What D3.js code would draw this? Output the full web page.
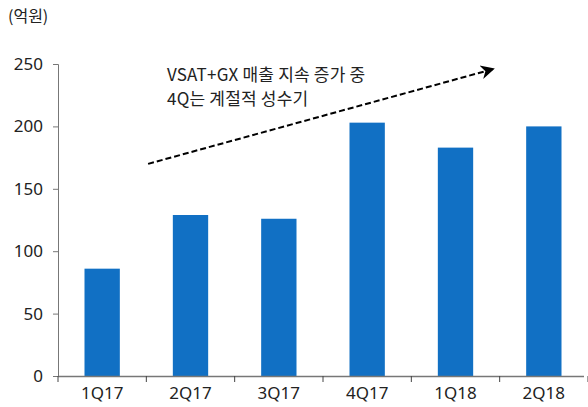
<!DOCTYPE html>
<html>
<head>
<meta charset="utf-8">
<script src="https://cdn.jsdelivr.net/npm/d3@7"></script>
<style>
  body { margin: 0; background: #fff; }
  svg { display: block; font-family: "Noto Sans CJK KR", "Noto Sans", sans-serif; }
</style>
</head>
<body>
<svg id="chart" width="588" height="407"></svg>
<script>
var quarters = ["1Q17", "2Q17", "3Q17", "4Q17", "1Q18", "2Q18"];
var sales = [86, 129, 126, 203, 183, 200];
var yTicks = [0, 50, 100, 150, 200, 250];
var unitLabel = "(억원)";
var noteLines = ["VSAT+GX 매출 지속 증가 중", "4Q는 계절적 성수기"];

var margin = {top: 64, right: 0, bottom: 31, left: 58},
    width = 588 - margin.left - margin.right,
    height = 407 - margin.top - margin.bottom;

var svg = d3.select("#chart")
    .append("g")
    .attr("transform", `translate(${margin.left}, ${margin.top})`);

var x = d3.scaleBand()
    .domain(quarters)
    .range([0, width])
    .paddingInner(0.6)
    .paddingOuter(0.3);

var y = d3.scaleLinear()
    .domain([0, 250])
    .range([height, 0]);

// bars
svg.selectAll("rect.bar")
    .data(quarters)
    .enter().append("rect")
    .attr("class", "bar")
    .attr("x", d => x(d))
    .attr("y", (d, i) => y(sales[i]))
    .attr("width", x.bandwidth())
    .attr("height", (d, i) => height - y(sales[i]))
    .attr("fill", "#1170c4");

// y axis
var yAxis = svg.append("g")
    .call(d3.axisLeft(y).tickValues(yTicks).tickSize(5).tickPadding(10));
yAxis.select(".domain").attr("stroke", "#777").attr("d", `M-5,0.5H0.5V${height}`);
yAxis.selectAll(".tick line").attr("stroke", "#777");
yAxis.selectAll(".tick text")
    .attr("font-size", 17).attr("fill", "#222")
    .attr("font-family", "Noto Sans, sans-serif");

// x axis, ticks between bands
var step = x.step();
var xg = svg.append("g")
    .attr("transform", `translate(0, ${height})`);
xg.append("line")
    .attr("x1", 0).attr("x2", width - 4)
    .attr("y1", 0.5).attr("y2", 0.5)
    .attr("stroke", "#777").attr("stroke-width", 1.5);
xg.selectAll("line.tk")
    .data(d3.range(quarters.length + 1))
    .enter().append("line")
    .attr("class", "tk")
    .attr("x1", i => i * step)
    .attr("x2", i => i * step)
    .attr("y1", 0).attr("y2", 6)
    .attr("stroke", "#444");
xg.selectAll("text")
    .data(quarters)
    .enter().append("text")
    .attr("x", d => x(d) + x.bandwidth() / 2)
    .attr("y", 23)
    .attr("text-anchor", "middle")
    .attr("font-size", 17)
    .attr("font-family", "Noto Sans, sans-serif")
    .attr("fill", "#222")
    .text(d => d);

// unit label
d3.select("#chart").append("text")
    .attr("x", 8).attr("y", 22)
    .attr("font-size", 16).attr("fill", "#222")
    .text(unitLabel);

// trend arrow
var defs = d3.select("#chart").append("defs");
defs.append("marker")
    .attr("id", "head")
    .attr("viewBox", "0 0 10 10")
    .attr("refX", 9).attr("refY", 5)
    .attr("markerWidth", 22).attr("markerHeight", 14)
    .attr("markerUnits", "userSpaceOnUse")
    .attr("orient", "auto")
    .append("path")
    .attr("d", "M0,0 L10,5 L0,10 L3,5 Z")
    .attr("fill", "#000");

var arrowFrom = [1.02, 170], arrowTo = [4.93, 246]; // [band position, value]
svg.append("line")
    .attr("x1", arrowFrom[0] * step).attr("y1", y(arrowFrom[1]))
    .attr("x2", arrowTo[0] * step).attr("y2", y(arrowTo[1]))
    .attr("stroke", "#000").attr("stroke-width", 2)
    .attr("stroke-dasharray", "6,3")
    .attr("marker-end", "url(#head)");

// note text
svg.selectAll("text.note")
    .data(noteLines)
    .enter().append("text")
    .attr("class", "note")
    .attr("x", 109)
    .attr("y", (d, i) => 17 + i * 24)
    .attr("font-size", 17)
    .attr("letter-spacing", 0.2)
    .attr("fill", "#222")
    .text(d => d);
</script>
</body>
</html>
